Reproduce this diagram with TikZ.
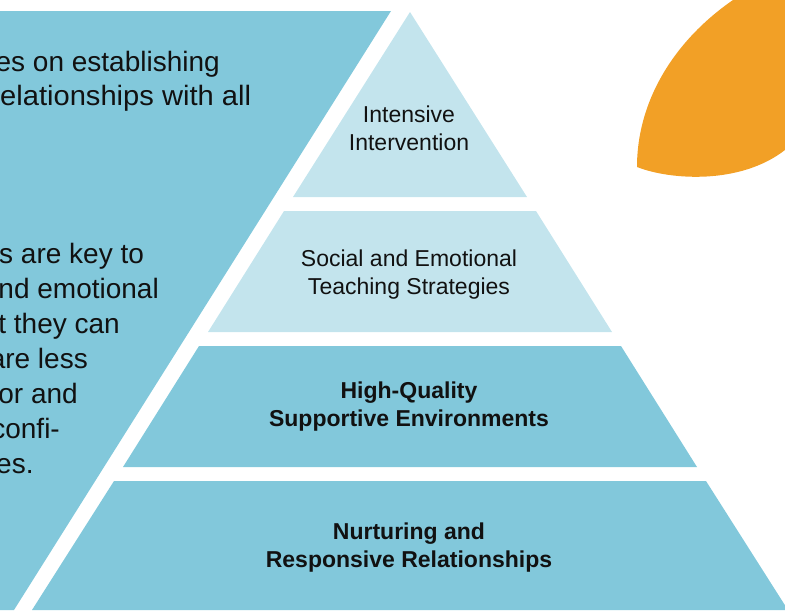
\documentclass[tikz,border=0pt]{standalone}
\usepackage{fontspec}
\setmainfont{Liberation Sans}
\newfontfamily\widebody{Liberation Sans}[FakeStretch=1.04]
\definecolor{lightblue}{HTML}{C3E4ED}
\definecolor{midblue}{HTML}{82C8DB}
\definecolor{sunorange}{HTML}{F2A026}
\definecolor{inkblack}{HTML}{111111}
\begin{document}
\begin{tikzpicture}[x=1pt,y=-1pt,
  bodytext/.style={font=\fontsize{28}{35}\selectfont, text=inkblack, inner sep=0pt, anchor=base east},
  bodyleft/.style={bodytext, anchor=base west},
  bodywide/.style={bodyleft, font=\widebody\fontsize{28}{35}\selectfont},
  tierlabel/.style={font=\fontsize{23}{28}\selectfont, text=inkblack, inner sep=0pt, anchor=base},
  tierbold/.style={tierlabel, font=\fontsize{23}{28}\selectfont\bfseries}]
\useasboundingbox (0,0) rectangle (785,614);
\begin{scope}
\clip (0,0) rectangle (785,614);
% left panel
\fill[midblue] (0,11) -- (391,11) -- (14,610) -- (0,610) -- cycle;
% pyramid tiers
\fill[lightblue] (410,12) -- (527,197) -- (293,197) -- cycle;
\fill[lightblue] (284,211) -- (536,211) -- (612,332) -- (208,332) -- cycle;
\fill[midblue] (199,346) -- (621,346) -- (697,467) -- (123,467) -- cycle;
\fill[midblue] (114,481) -- (706,481) -- (788,610) -- (32,610) -- cycle;
% orange leaf
\fill[sunorange] (733,0) .. controls (675,40) and (637,100) .. (637,167)
  .. controls (670,180) and (740,185) .. (785,150) -- (785,0) -- cycle;
% left text
\node[bodytext] (p1a) at (220,71) {es on establishing};
\node[bodywide] (p1b) at (0,105) {elationships with all};
\node[bodyleft] (p2a) at (-1,263) {s are key to};
\node[bodytext] (p2b) at (159,298) {nd emotional};
\node[bodytext] (p2c) at (120,333) {t they can};
\node[bodytext] (p2d) at (88,368) {are less};
\node[bodytext] (p2e) at (78,403) {or and};
\node[bodytext] (p2f) at (60,438) {confi-};
\node[bodyleft] (p2g) at (-4,473) {es.};
\end{scope}
% tier labels
\node[tierlabel] (t1a) at (409,122) {Intensive};
\node[tierlabel] (t1b) at (409,150) {Intervention};
\node[tierlabel] (t2a) at (409,266) {Social and Emotional};
\node[tierlabel] (t2b) at (409,294) {Teaching Strategies};
\node[tierbold] (t3a) at (409,398) {High-Quality};
\node[tierbold] (t3b) at (409,426) {Supportive Environments};
\node[tierbold] (t4a) at (409,539) {Nurturing and};
\node[tierbold] (t4b) at (409,567) {Responsive Relationships};
\end{tikzpicture}
\end{document}
